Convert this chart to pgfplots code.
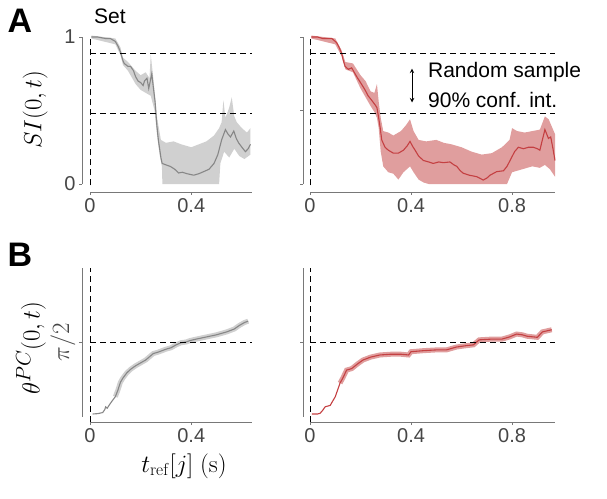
\documentclass[border=0pt]{standalone}
\usepackage{pgfplots}
\pgfplotsset{compat=1.18}
\usepackage[no-math]{fontspec}
\setmainfont{Liberation Sans}
\definecolor{spine}{RGB}{120,120,120}
\definecolor{tickc}{RGB}{70,70,70}
\definecolor{gline}{RGB}{135,135,135}
\definecolor{gband}{RGB}{208,208,208}
\definecolor{rline}{RGB}{196,64,66}
\definecolor{rband}{RGB}{224,158,158}
\pgfplotsset{
  mystyle/.style={
    scale only axis, anchor=south west,
    axis lines=left, axis line style={draw=none,-},
    tick align=outside, major tick length=3pt,
    tick style={spine, line width=0.6pt},
    ticklabel style={font=\fontsize{20}{24}\selectfont, text=tickc},
    /pgf/number format/assume math mode=true,
    clip=false,
  },
  topstyle/.style={ymin=-0.0544, ymax=1, height=155pt},
  botstyle/.style={ymin=-0.1745, ymax=3.185, height=154pt},
  leftstyle/.style={xmin=-0.0317, xmax=0.64, width=170pt, xtick={0,0.4}, xticklabels={0,0.4}},
  rightstyle/.style={xmin=-0.0277, xmax=0.97, width=252pt, xtick={0,0.4,0.8}, xticklabels={0,0.4,0.8}},
}
\begin{document}
\begin{tikzpicture}
\useasboundingbox (0,0) rectangle (607pt,498pt);
% ---------------- A left ----------------
\begin{axis}[mystyle, topstyle, leftstyle, at={(82pt,306pt)},
  ytick={0,1}, yticklabels={0,1},
  ylabel={\fontsize{26}{30}\selectfont $SI(0,t)$},
  every axis y label/.style={at={(axis description cs:-0.276,0.53)}, rotate=90, anchor=center}]
\draw[spine, line width=0.8pt] (axis cs:-0.0317,0) -- (axis cs:-0.0317,1);
\draw[spine, line width=0.8pt] (axis cs:0,-0.0544) -- (axis cs:0.64,-0.0544);
\addplot[fill=gband, draw=none] coordinates {
(0.005,1.01) (0.1,0.99) (0.12,0.93) (0.13,0.86) (0.15,0.83) (0.18,0.77) (0.2,0.74) (0.22,0.76) (0.235,0.72) (0.24,0.88) (0.25,0.72) (0.257,0.60) (0.265,0.45) (0.28,0.30) (0.3,0.28) (0.33,0.29) (0.36,0.27) (0.4,0.25) (0.43,0.27) (0.46,0.29) (0.49,0.33) (0.51,0.38) (0.52,0.42) (0.527,0.57) (0.535,0.45) (0.55,0.52) (0.56,0.59) (0.57,0.46) (0.58,0.42) (0.6,0.38) (0.62,0.35) (0.634,0.38)
(0.634,0.20) (0.61,0.17) (0.59,0.19) (0.57,0.24) (0.55,0.18) (0.53,0.22) (0.515,0.14) (0.51,0.0) (0.286,0.0) (0.284,0.12) (0.275,0.20) (0.265,0.33) (0.255,0.50) (0.24,0.60) (0.22,0.62) (0.2,0.64) (0.18,0.68) (0.15,0.77) (0.13,0.81) (0.12,0.88) (0.1,0.95) (0.005,0.99)};
\addplot[gline, line width=1.1pt] coordinates {
(0.005,1.0) (0.03,1.0) (0.06,0.99) (0.08,0.99) (0.1,0.97) (0.11,0.94) (0.12,0.90) (0.13,0.84) (0.135,0.82) (0.15,0.80) (0.16,0.80) (0.172,0.77) (0.18,0.73) (0.19,0.70) (0.2,0.69) (0.21,0.67) (0.215,0.70) (0.225,0.72) (0.232,0.65) (0.238,0.70) (0.244,0.75) (0.25,0.66) (0.257,0.56) (0.264,0.40) (0.27,0.30) (0.28,0.18) (0.285,0.14) (0.3,0.13) (0.317,0.12) (0.335,0.10) (0.35,0.075) (0.365,0.08) (0.383,0.07) (0.41,0.06) (0.43,0.07) (0.45,0.085) (0.47,0.10) (0.49,0.14) (0.505,0.20) (0.52,0.30) (0.535,0.37) (0.545,0.34) (0.555,0.32) (0.568,0.36) (0.578,0.31) (0.587,0.28) (0.6,0.25) (0.614,0.22) (0.625,0.24) (0.634,0.27)};
\draw[line width=0.9pt, dash pattern=on 6pt off 4pt] (axis cs:0,-0.01) -- (axis cs:0,1);
\draw[line width=0.9pt, dash pattern=on 6pt off 4pt] (axis cs:0,0.89) -- (axis cs:0.64,0.89);
\draw[line width=0.9pt, dash pattern=on 6pt off 4pt] (axis cs:0,0.48) -- (axis cs:0.64,0.48);
\end{axis}
% ---------------- A right ----------------
\begin{axis}[mystyle, topstyle, rightstyle, at={(303pt,306pt)},
  ytick={0,0.5,1}, yticklabels={,,}]
\draw[spine, line width=0.8pt] (axis cs:-0.0277,0) -- (axis cs:-0.0277,1);
\draw[spine, line width=0.8pt] (axis cs:0,-0.0544) -- (axis cs:0.97,-0.0544);
\addplot[fill=rband, draw=none] coordinates {
(0.005,1.01) (0.1,0.99) (0.125,0.91) (0.14,0.83) (0.17,0.82) (0.2,0.74) (0.22,0.70) (0.24,0.63) (0.255,0.62) (0.265,0.68) (0.272,0.56) (0.28,0.45) (0.29,0.36) (0.31,0.35) (0.33,0.33) (0.36,0.36) (0.38,0.40) (0.396,0.44) (0.41,0.36) (0.43,0.30) (0.46,0.29) (0.5,0.30) (0.53,0.28) (0.56,0.27) (0.6,0.25) (0.64,0.22) (0.68,0.20) (0.72,0.21) (0.76,0.25) (0.79,0.30) (0.8,0.38) (0.82,0.36) (0.85,0.35) (0.88,0.36) (0.91,0.37) (0.93,0.46) (0.945,0.44) (0.955,0.40) (0.97,0.34)
(0.97,0.05) (0.95,0.10) (0.93,0.13) (0.91,0.11) (0.88,0.12) (0.84,0.10) (0.8,0.08) (0.78,0.0) (0.47,0.0) (0.45,0.01) (0.43,0.03) (0.41,0.08) (0.396,0.12) (0.37,0.08) (0.35,0.03) (0.33,0.07) (0.31,0.08) (0.29,0.12) (0.28,0.22) (0.272,0.38) (0.265,0.45) (0.255,0.49) (0.24,0.53) (0.22,0.59) (0.2,0.65) (0.17,0.76) (0.14,0.78) (0.125,0.87) (0.1,0.95) (0.005,0.99)};
\addplot[rline, line width=1.1pt] coordinates {
(0.005,1.0) (0.03,1.0) (0.05,0.99) (0.086,0.99) (0.1,0.97) (0.106,0.96) (0.115,0.93) (0.125,0.89) (0.132,0.84) (0.139,0.80) (0.152,0.78) (0.165,0.79) (0.175,0.76) (0.185,0.73) (0.2,0.69) (0.218,0.64) (0.23,0.60) (0.244,0.57) (0.257,0.54) (0.265,0.52) (0.271,0.46) (0.278,0.38) (0.284,0.30) (0.297,0.25) (0.31,0.23) (0.33,0.21) (0.35,0.21) (0.37,0.23) (0.385,0.26) (0.396,0.29) (0.405,0.26) (0.416,0.23) (0.43,0.19) (0.449,0.16) (0.47,0.15) (0.488,0.14) (0.51,0.15) (0.528,0.145) (0.554,0.15) (0.57,0.13) (0.581,0.12) (0.595,0.09) (0.607,0.073) (0.63,0.06) (0.66,0.05) (0.686,0.027) (0.7,0.04) (0.713,0.06) (0.739,0.084) (0.766,0.09) (0.78,0.12) (0.792,0.16) (0.81,0.22) (0.825,0.25) (0.845,0.24) (0.865,0.25) (0.884,0.25) (0.9,0.24) (0.91,0.23) (0.92,0.30) (0.93,0.37) (0.944,0.31) (0.953,0.32) (0.962,0.24) (0.97,0.16)};
\draw[line width=0.9pt, dash pattern=on 6pt off 4pt] (axis cs:0,-0.01) -- (axis cs:0,1);
\draw[line width=0.9pt, dash pattern=on 6pt off 4pt] (axis cs:0,0.89) -- (axis cs:0.97,0.89);
\draw[line width=0.9pt, dash pattern=on 6pt off 4pt] (axis cs:0,0.48) -- (axis cs:0.97,0.48);
\draw[<->, >=stealth, line width=1pt] (axis cs:0.404,0.785) -- (axis cs:0.404,0.555);
\node[anchor=west, inner sep=0pt, font=\fontsize{21}{24}\selectfont] at (axis cs:0.467,0.76) {Random sample};
\node[anchor=west, inner sep=0pt, font=\fontsize{21}{24}\selectfont] at (axis cs:0.467,0.57) {90\% conf. int.};
\end{axis}
% ---------------- B left ----------------
\begin{axis}[mystyle, botstyle, leftstyle, at={(82pt,76pt)},
  ytick={1.5708}, yticklabels={$\pi/2$},
  yticklabel style={rotate=90, anchor=south, font=\fontsize{28}{30}\selectfont},
  ylabel={\fontsize{29}{32}\selectfont $\theta^{PC}(0,t)$},
  every axis y label/.style={at={(axis description cs:-0.300,0.48)}, rotate=90, anchor=center},
  xlabel={\fontsize{24}{28}\selectfont $t_{\mathrm{ref}}[j]\ (\mathrm{s})$},
  every axis x label/.style={at={(axis description cs:0.6,-0.286)}, anchor=center}]
\draw[spine, line width=0.8pt] (axis cs:-0.0317,-0.06) -- (axis cs:-0.0317,3.185);
\draw[spine, line width=0.8pt] (axis cs:0,-0.1745) -- (axis cs:0.64,-0.1745);
\addplot[gband, line width=5pt] coordinates {
(0.1,0.377) (0.11,0.518) (0.12,0.691) (0.13,0.785) (0.145,0.895) (0.16,0.974) (0.18,1.052) (0.2,1.115) (0.22,1.178) (0.25,1.319) (0.27,1.351) (0.3,1.414) (0.32,1.445) (0.34,1.508) (0.36,1.555) (0.38,1.571) (0.395,1.602) (0.42,1.634) (0.46,1.681) (0.5,1.728) (0.54,1.791) (0.57,1.854) (0.59,1.932) (0.61,1.995) (0.625,2.026)};
\addplot[gline, line width=1.1pt] coordinates {
(0.01,0.0) (0.03,0.008) (0.05,0.031) (0.058,0.094) (0.062,0.157) (0.068,0.126) (0.075,0.188) (0.085,0.267) (0.1,0.377) (0.11,0.518) (0.12,0.691) (0.13,0.785) (0.145,0.895) (0.16,0.974) (0.18,1.052) (0.2,1.115) (0.22,1.178) (0.25,1.319) (0.27,1.351) (0.3,1.414) (0.32,1.445) (0.34,1.508) (0.36,1.555) (0.38,1.571) (0.395,1.602) (0.42,1.634) (0.46,1.681) (0.5,1.728) (0.54,1.791) (0.57,1.854) (0.59,1.932) (0.61,1.995) (0.625,2.026)};
\draw[line width=0.9pt, dash pattern=on 6pt off 4pt] (axis cs:0,-0.17) -- (axis cs:0,3.185);
\draw[line width=0.9pt, dash pattern=on 6pt off 4pt] (axis cs:0,1.5708) -- (axis cs:0.64,1.5708);
\end{axis}
% ---------------- B right ----------------
\begin{axis}[mystyle, botstyle, rightstyle, at={(303pt,76pt)},
  ytick={1.5708}, yticklabels={}]
\draw[spine, line width=0.8pt] (axis cs:-0.0277,-0.06) -- (axis cs:-0.0277,3.185);
\draw[spine, line width=0.8pt] (axis cs:0,-0.1745) -- (axis cs:0.97,-0.1745);
\addplot[rband, line width=5pt] coordinates {
(0.119,0.675) (0.13,0.785) (0.145,0.958) (0.165,0.990) (0.19,1.100) (0.21,1.178) (0.24,1.241) (0.277,1.288) (0.32,1.304) (0.36,1.304) (0.39,1.288) (0.40,1.359) (0.45,1.382) (0.5,1.398) (0.54,1.398) (0.58,1.461) (0.62,1.492) (0.647,1.508) (0.67,1.618) (0.72,1.634) (0.76,1.634) (0.79,1.681) (0.818,1.744) (0.84,1.728) (0.86,1.696) (0.9,1.673) (0.92,1.791) (0.957,1.838)};
\addplot[rline, line width=1.1pt] coordinates {
(0.007,0) (0.03,0) (0.04,0.016) (0.05,0.079) (0.06,0.157) (0.08,0.188) (0.09,0.283) (0.1,0.377) (0.119,0.675) (0.13,0.785) (0.145,0.958) (0.165,0.990) (0.19,1.100) (0.21,1.178) (0.24,1.241) (0.277,1.288) (0.32,1.304) (0.36,1.304) (0.39,1.288) (0.40,1.359) (0.45,1.382) (0.5,1.398) (0.54,1.398) (0.58,1.461) (0.62,1.492) (0.647,1.508) (0.67,1.618) (0.72,1.634) (0.76,1.634) (0.79,1.681) (0.818,1.744) (0.84,1.728) (0.86,1.696) (0.9,1.673) (0.92,1.791) (0.957,1.838)};
\draw[line width=0.9pt, dash pattern=on 6pt off 4pt] (axis cs:0,-0.17) -- (axis cs:0,3.185);
\draw[line width=0.9pt, dash pattern=on 6pt off 4pt] (axis cs:0,1.5708) -- (axis cs:0.97,1.5708);
\end{axis}
% panel letters and title
\node[font=\fontsize{34}{36}\selectfont\bfseries, anchor=center] at (20pt,477pt) {A};
\node[font=\fontsize{34}{36}\selectfont\bfseries, anchor=center] at (20pt,243pt) {B};
\node[font=\fontsize{21}{24}\selectfont, anchor=center] at (110pt,482pt) {Set};
\end{tikzpicture}
\end{document}
